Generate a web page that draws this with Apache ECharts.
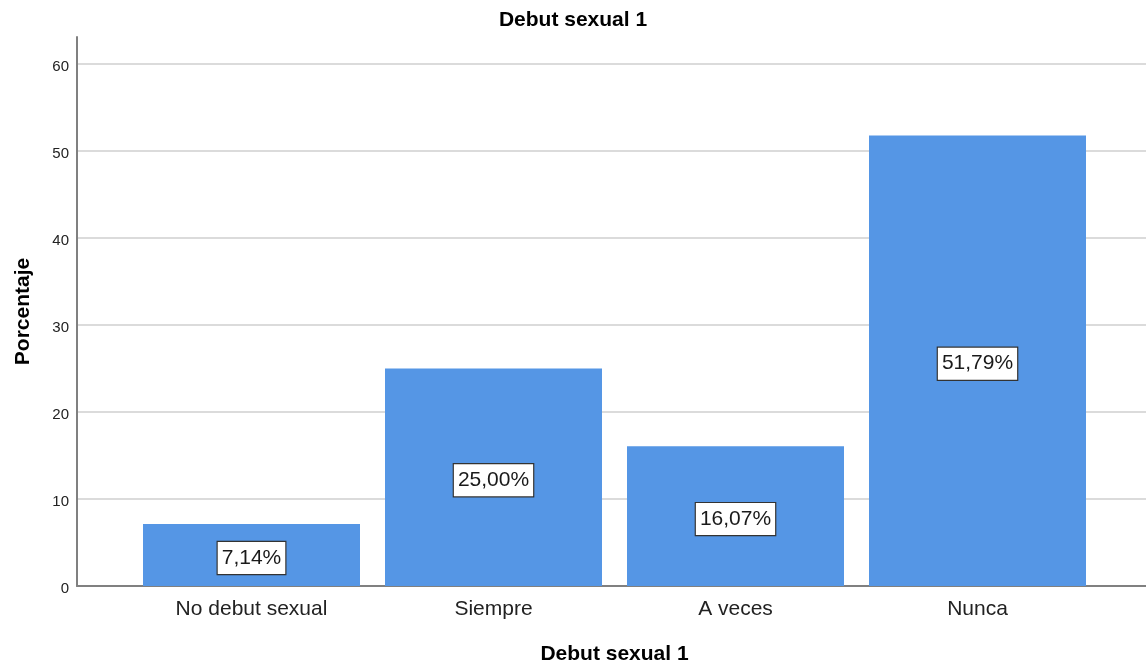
<!DOCTYPE html>
<html>
<head>
<meta charset="utf-8">
<title>Debut sexual 1</title>
<script src="https://cdn.jsdelivr.net/npm/echarts@6/dist/echarts.min.js"></script>
<style>
  html, body { margin: 0; padding: 0; background: #ffffff; }
  #chart { width: 1146px; height: 663px; }
</style>
</head>
<body>
<div id="chart"></div>
<script>
// Categories and percentages
const categories = ['No debut sexual', 'Siempre', 'A veces', 'Nunca'];
const percentages = [7.14, 25.00, 16.07, 51.79];
const yTicks = [0, 10, 20, 30, 40, 50, 60];

const FONT = '"Liberation Sans", Arial, sans-serif';
const Y_MIN = 0;
const Y_MAX = 63.1;

const chart = echarts.init(document.getElementById('chart'), null, { renderer: 'canvas' });

const fmtPct = v => v.toFixed(2).replace('.', ',') + '%';

chart.setOption({
  backgroundColor: '#ffffff',
  animation: false,
  title: {
    text: 'Debut sexual 1',
    left: 'center',
    top: 5,
    textStyle: { fontFamily: FONT, fontSize: 21, fontWeight: 'bold', color: '#000000' }
  },
  grid: [
    // frame with value axis and gridlines
    { left: 77, right: 0, top: 37, bottom: 77, containLabel: false, outerBoundsMode: 'none' },
    // category bands for the bars
    { left: 130.5, right: 47.5, top: 37, bottom: 77, containLabel: false, outerBoundsMode: 'none' }
  ],
  xAxis: [
    {
      gridIndex: 0,
      type: 'value',
      min: 0,
      max: 1,
      axisLine: { show: true, onZero: false, lineStyle: { color: '#808080', width: 2 } },
      axisTick: { show: false },
      axisLabel: { show: false },
      splitLine: { show: false }
    },
    {
      gridIndex: 1,
      type: 'category',
      data: categories,
      boundaryGap: true,
      axisLine: { show: false },
      axisTick: { show: false },
      axisLabel: {
        fontFamily: FONT, fontSize: 21, color: '#222222', margin: 13
      },
      name: 'Debut sexual 1',
      nameLocation: 'middle',
      nameGap: 58,
      nameTextStyle: { fontFamily: FONT, fontSize: 21, fontWeight: 'bold', color: '#000000' }
    }
  ],
  yAxis: [
    {
      gridIndex: 0,
      type: 'value',
      min: Y_MIN,
      max: Y_MAX,
      interval: 10,
      axisLine: { show: true, lineStyle: { color: '#808080', width: 2 } },
      axisTick: { show: false },
      axisLabel: {
        fontFamily: FONT, fontSize: 15, color: '#222222', margin: 8,
        showMaxLabel: false,
        formatter: v => (yTicks.includes(v) ? '{t|' + v + '}' : ''),
        rich: {
          t: { fontFamily: FONT, fontSize: 15, color: '#222222', padding: [6, 0, 0, 0] }
        }
      },
      splitLine: {
        show: true,
        showMinLine: false,
        showMaxLine: false,
        lineStyle: { color: '#cfcfcf', width: 1.5 }
      },
      name: 'Porcentaje',
      nameLocation: 'middle',
      nameGap: 43,
      nameTextStyle: { fontFamily: FONT, fontSize: 21, fontWeight: 'bold', color: '#000000' }
    },
    {
      gridIndex: 1,
      type: 'value',
      min: Y_MIN,
      max: Y_MAX,
      show: false,
      splitLine: { show: false }
    }
  ],
  series: [
    {
      type: 'bar',
      xAxisIndex: 1,
      yAxisIndex: 1,
      data: percentages,
      barWidth: 217,
      itemStyle: { color: '#5596e5' },
      label: {
        show: true,
        position: 'inside',
        offset: [0, 3],
        formatter: p => fmtPct(p.value),
        fontFamily: FONT,
        fontSize: 21,
        color: '#1a1a1a',
        backgroundColor: '#ffffff',
        borderColor: '#333333',
        borderWidth: 1.2,
        padding: [6, 4, 5, 4]
      }
    }
  ]
});
</script>
</body>
</html>
